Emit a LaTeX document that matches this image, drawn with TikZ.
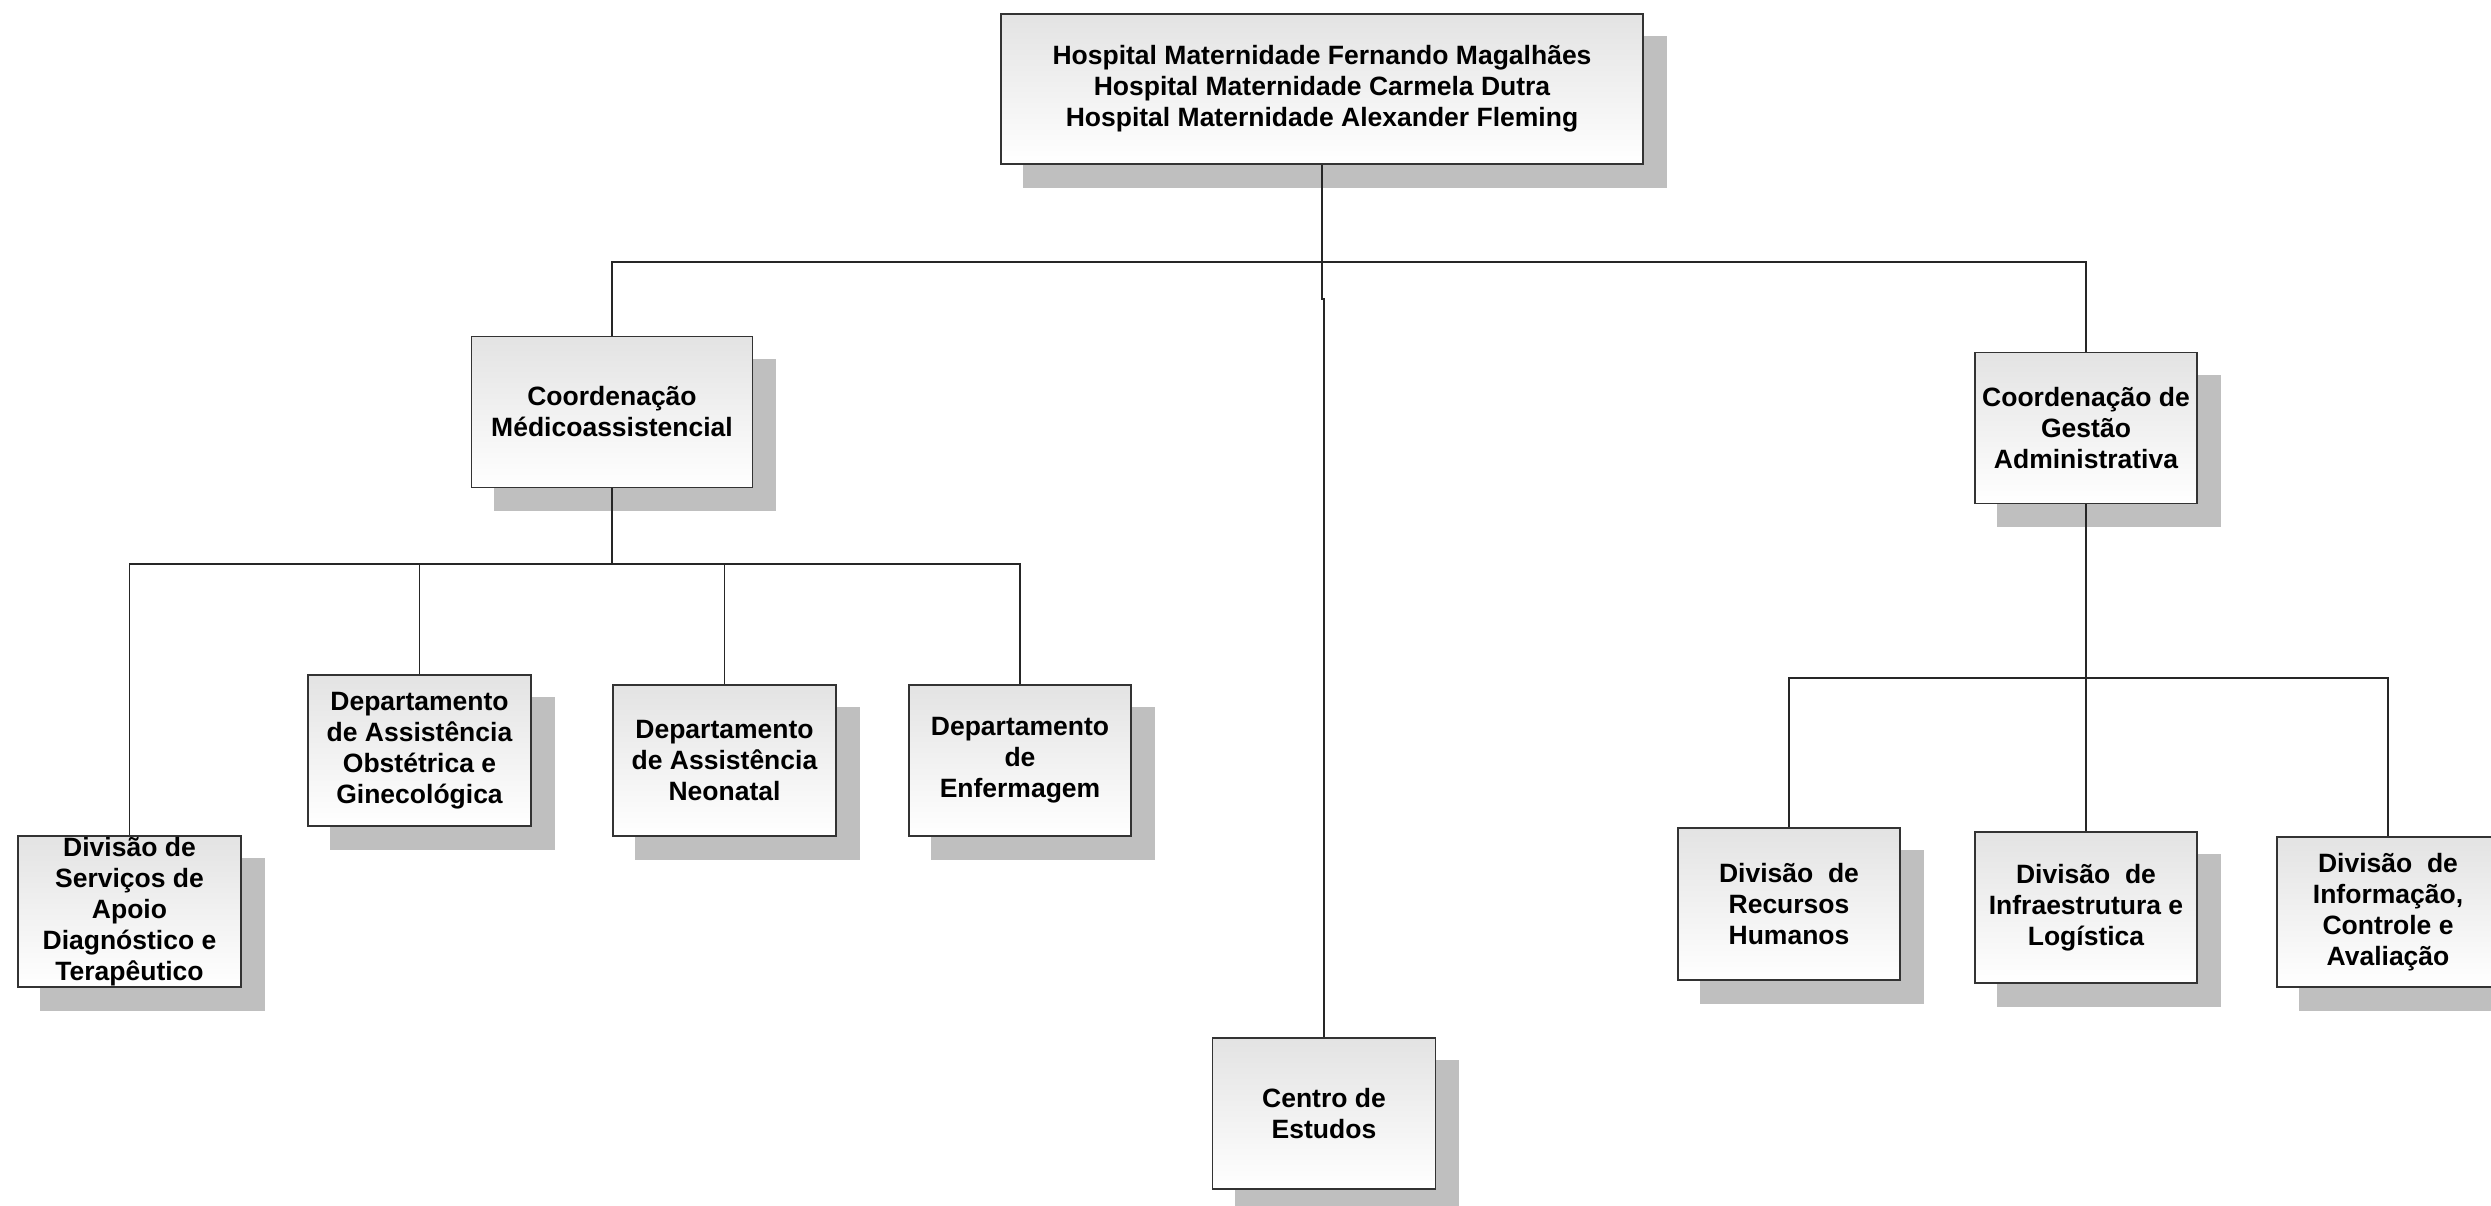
\documentclass[tikz,border=0pt]{standalone}
\usepackage{fontspec}
\setmainfont{Liberation Sans}
\pgfdeclarelayer{bg}
\pgfsetlayers{bg,main}
\begin{document}
\begin{tikzpicture}[x=1pt,y=-1pt,
  box/.style={draw=black!80, line width=1.2pt, top color=black!11, bottom color=white,
    align=center, inner sep=0pt, font=\fontsize{26.5}{31}\selectfont\bfseries},
  conn/.style={draw=black!85, line width=1.2pt},
  shadowc/.style={fill=black!25}]
\useasboundingbox (0,0) rectangle (2491,1206);

\node[box, minimum width=642pt, minimum height=150pt] (top) at (1322,89)
  {Hospital Maternidade Fernando Magalhães\\Hospital Maternidade Carmela Dutra\\Hospital Maternidade Alexander Fleming};
\node[box, minimum width=281pt, minimum height=151pt] (cma) at (612,412)
  {Coordenação\\Médicoassistencial};
\node[box, minimum width=222pt, minimum height=151pt] (cga) at (2086,428)
  {Coordenação de\\Gestão\\Administrativa};
\node[box, minimum width=223pt, minimum height=151pt] (sadt) at (129.5,911.5)
  {Divisão de\\Serviços de\\Apoio\\Diagnóstico e\\Terapêutico};
\node[box, minimum width=223pt, minimum height=151pt] (aog) at (419.5,750.5)
  {Departamento\\de Assistência\\Obstétrica e\\Ginecológica};
\node[box, minimum width=223pt, minimum height=151pt] (an) at (724.5,760.5)
  {Departamento\\de Assistência\\Neonatal};
\node[box, minimum width=222pt, minimum height=151pt] (enf) at (1020,760.5)
  {Departamento\\de\\Enfermagem};
\node[box, minimum width=222pt, minimum height=152pt] (rh) at (1789,904)
  {Divisão~~de\\Recursos\\Humanos};
\node[box, minimum width=222pt, minimum height=151pt] (il) at (2086,907.5)
  {Divisão~~de\\Infraestrutura e\\Logística};
\node[box, minimum width=222pt, minimum height=150pt] (ica) at (2388,912)
  {Divisão~~de\\Informação,\\Controle e\\Avaliação};
\node[box, minimum width=223pt, minimum height=151pt] (centro) at (1324,1113.5)
  {Centro de\\Estudos};

\begin{pgfonlayer}{bg}
\foreach \n in {top,cma,cga,sadt,aog,an,enf,rh,il,ica,centro}
  \fill[shadowc] ([xshift=23pt,yshift=-23pt]\n.south west) rectangle ([xshift=23pt,yshift=-23pt]\n.north east);
\end{pgfonlayer}

\coordinate (b1) at (1322,262);
\coordinate (lb) at (612,564);
\coordinate (rb) at (2086,678);

\draw[conn] (top.south) -- (b1);
\draw[conn] (cma.north) |- (b1) -| (cga.north);
\draw[conn] (b1) -- ++(0,37) -| (centro.north);

\draw[conn] (cma.south) -- (lb);
\draw[conn] (sadt.north) |- (lb) -| (enf.north);
\draw[conn] (aog.north) -- (aog.north |- lb);
\draw[conn] (an.north) -- (an.north |- lb);

\draw[conn] (cga.south) -- (il.north);
\draw[conn] (rh.north) |- (rb) -| (ica.north);
\end{tikzpicture}
\end{document}
